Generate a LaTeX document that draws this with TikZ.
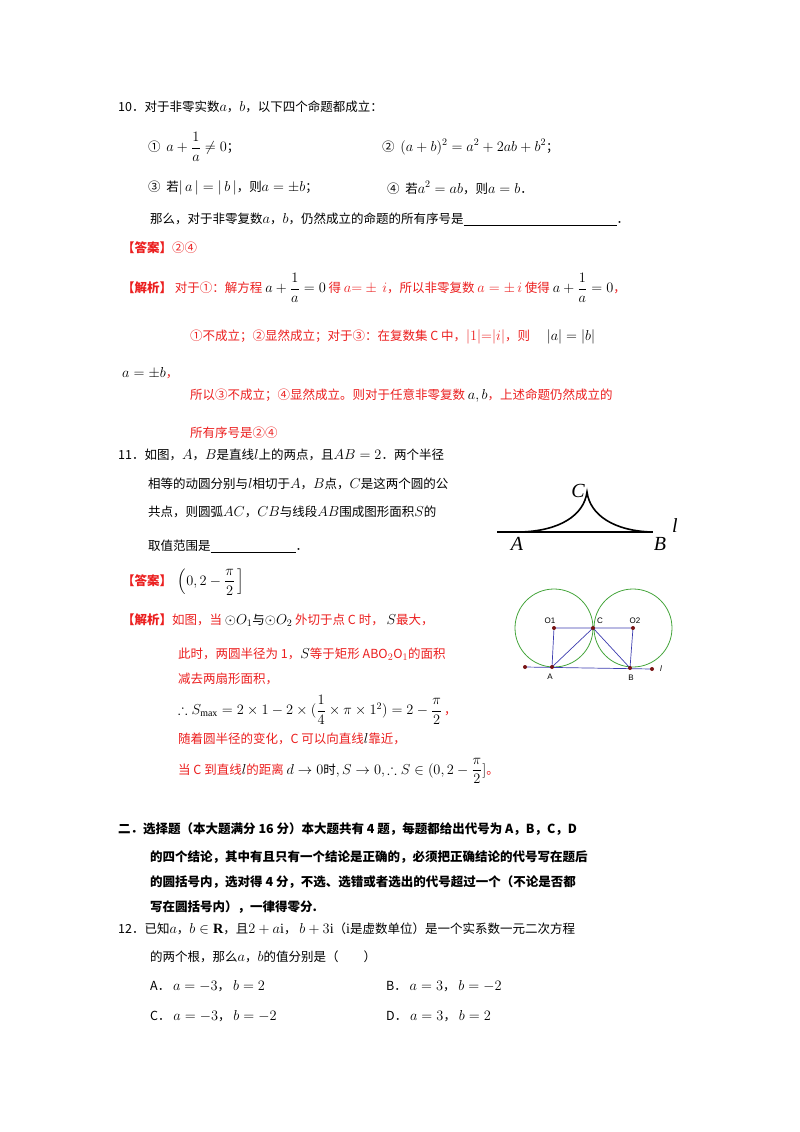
\documentclass[tikz,border=0pt]{standalone}
\usepackage{amsmath,amssymb}
\usepackage{fontspec}
\setmainfont{Liberation Serif}
\newfontfamily\cjk[Scale=0.88]{Noto Sans CJK SC}
\newfontfamily\lsans{Liberation Sans}
\definecolor{ansred}{RGB}{235,30,30}
\definecolor{gcirc}{RGB}{70,165,60}
\definecolor{bline}{RGB}{60,60,175}
\definecolor{dred}{RGB}{120,20,20}
\begin{document}
\begin{tikzpicture}[x=1pt,y=-1pt,
  tx/.style={anchor=west,inner sep=0pt,font=\fontsize{14.2}{17}\selectfont\cjk},
  rtx/.style={tx,text=ansred},
  btx/.style={tx,font=\fontsize{14.2}{17}\selectfont\cjk\bfseries},
  lab/.style={inner sep=0pt,font=\fontsize{20}{20}\selectfont\itshape},
  slab/.style={inner sep=0pt,font=\fontsize{8}{8}\selectfont\lsans},
  pt/.style={circle,fill=dred,inner sep=0pt,minimum size=4pt}]
\useasboundingbox (0,0) rectangle (800,1132);
% Q10
\node[tx] (q10) at (118,107) {10．对于非零实数$a$，$b$，以下四个命题都成立：};
\node[tx] (p1) at (148,147) {①\ \ $a+\dfrac{1}{a}\neq 0$；};
\node[tx] (p2) at (382,147) {②\ \ $(a+b)^2=a^2+2ab+b^2$；};
\node[tx] (p3) at (148,188) {③\ \ 若$|\,a\,|=|\,b\,|$，则$a=\pm b$；};
\node[tx] (p4) at (387,188) {④\ \ 若$a^2=ab$，则$a=b$．};
\node[tx] (q10b) at (150,219) {那么，对于非零复数$a$，$b$，仍然成立的命题的所有序号是\rule[-2pt]{153pt}{0.6pt}．};
\node[rtx] (ans10) at (122,248) {\textbf{【答案】}②④};
\node[rtx] (sol10a) at (122,288) {\textbf{【解析】}\ 对于①：解方程\ $\color{black}a+\dfrac{1}{a}=0$\ 得\ $a{=}\pm\,i$，所以非零复数\ $a=\pm\,i$\ 使得\ $\color{black}a+\dfrac{1}{a}=0$，};
\node[rtx] (sol10b) at (190,337) {①不成立；②显然成立；对于③：在复数集 C 中，$|1|{=}|i|$，则\ \ \ \ \ \ $\color{black}|a|=|b|$};
\node[tx] (sol10c) at (122,373) {$a=\pm b$\textcolor{ansred}{，}};
\node[rtx] (sol10d) at (190,396) {所以③不成立；④显然成立。则对于任意非零复数\ $\color{black}a,b$，上述命题仍然成立的};
\node[rtx] (sol10e) at (190,433) {所有序号是②④};
% Q11
\node[tx] (q11a) at (118,455) {11．如图，$A$，$B$是直线$l$上的两点，且$AB=2$．两个半径};
\node[tx] (q11b) at (148,484) {相等的动圆分别与$l$相切于$A$，$B$点，$C$是这两个圆的公};
\node[tx] (q11c) at (148,512) {共点，则圆弧$AC$，$CB$与线段$AB$围成图形面积$S$的};
\node[tx] (q11d) at (148,546) {取值范围是\rule[-2pt]{85pt}{0.6pt}．};
% figure 1
\coordinate (l1) at (497,532);
\coordinate (l2) at (653,532);
\coordinate (fA) at (520,532);
\coordinate (fC) at (587,492);
\coordinate (fB) at (652,532);
\draw[line width=1.1pt] (l1) -- (l2);
\draw[line width=1.6pt] (fA) .. controls (560,531) and (584,515) .. (fC) .. controls (590,515) and (614,531) .. (fB);
\node[lab] (tA) at (517,544) {A};
\node[lab] (tB) at (660,544) {B};
\node[lab] (tC) at (578,491) {C};
\node[lab] (tl) at (675,526) {l};
% answer 11
\node[rtx] (ans11) at (122,582) {\textbf{【答案】}\ \ $\color{black}\left(0,2-\dfrac{\pi}{2}\,\right]$};
\node[rtx] (sol11a) at (122,620) {\textbf{【解析】}如图，当\ $\color{black}\odot O_1$\textcolor{black}{与}$\color{black}\odot O_2$\ 外切于点 C 时，\ $\color{black}S$最大，};
\node[rtx] (sol11b) at (178,654) {此时，两圆半径为 1，$\color{black}S$等于矩形 ABO$_2$O$_1$的面积};
\node[rtx] (sol11c) at (178,679) {减去两扇形面积，};
\node[tx] (sol11d) at (178,710) {$\therefore S_{\max}=2\times1-2\times(\dfrac14\times\pi\times1^2)=2-\dfrac{\pi}{2}$\,\textcolor{ansred}{，}};
\node[rtx] (sol11e) at (178,739) {随着圆半径的变化，C 可以向直线$\color{black}l$靠近，};
\node[rtx] (sol11f) at (178,771) {当 C 到直线$\color{black}l$的距离\ $\color{black}d\to0$\textcolor{black}{时}$\color{black},S\to0,\therefore S\in(0,2-\dfrac{\pi}{2}]$。};
% figure 2
\coordinate (O1) at (554,628);
\coordinate (O2) at (633,628);
\coordinate (C) at (593,628);
\coordinate (A) at (552,667);
\coordinate (B) at (630,668);
\coordinate (L) at (525,667);
\coordinate (R) at (652,669);
\draw[gcirc,line width=0.8pt] (O1) circle (39);
\draw[gcirc,line width=0.8pt] (O2) circle (39);
\draw[bline,line width=0.7pt] (L) -- (R) (O1) -- (O2) (O1) -- (A) -- (C) -- (B) -- (O2);
\foreach \p in {O1,O2,C,A,B,L,R} \fill[dred] (\p) circle (2);
\node[slab] (tO1) at (550,621) {O1};
\node[slab] (tC2) at (600,621) {C};
\node[slab] (tO2) at (635,621) {O2};
\node[slab] (tA2) at (550,677) {A};
\node[slab] (tB2) at (631,678) {B};
\node[slab] (tl2) at (661,669) {\itshape l};
% section 2
\node[btx] (s2a) at (118,829) {二．选择题（本大题满分 16 分）本大题共有 4 题，每题都给出代号为 A，B，C，D};
\node[btx] (s2b) at (150,857) {的四个结论，其中有且只有一个结论是正确的，必须把正确结论的代号写在题后};
\node[btx] (s2c) at (150,882) {的圆括号内，选对得 4 分，不选、选错或者选出的代号超过一个（不论是否都};
\node[btx] (s2d) at (150,907) {写在圆括号内），一律得零分.};
\node[tx] (q12a) at (118,929) {12．已知$a$，$b\in\mathbf{R}$，且$2+a\mathrm{i}$，\ $b+3\mathrm{i}$（$\mathrm{i}$是虚数单位）是一个实系数一元二次方程};
\node[tx] (q12b) at (150,957) {的两个根，那么$a$，$b$的值分别是（\qquad）};
\node[tx] (oA) at (150,986) {A．\ $a=-3$，\ $b=2$};
\node[tx] (oB) at (386,986) {B．\ $a=3$，\ $b=-2$};
\node[tx] (oC) at (150,1016) {C．\ $a=-3$，\ $b=-2$};
\node[tx] (oD) at (386,1016) {D．\ $a=3$，\ $b=2$};
\end{tikzpicture}
\end{document}
